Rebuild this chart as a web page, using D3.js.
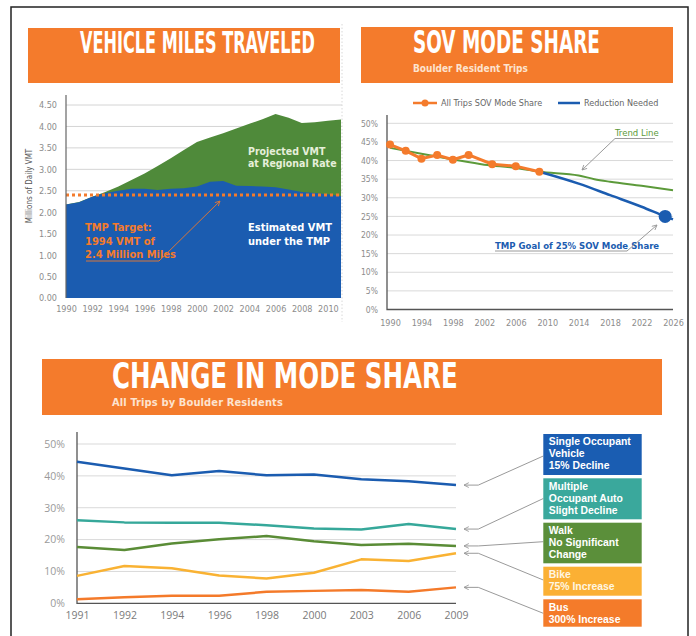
<!DOCTYPE html>
<html><head><meta charset="utf-8">
<script src="https://cdn.jsdelivr.net/npm/d3@7"></script>
<style>body{margin:0;background:#fff}svg{display:block}</style>
</head><body><svg id="c" width="696" height="636"></svg>
<script>
// ---------- DATA ----------
// Panel 1: Vehicle Miles Traveled (millions of daily VMT)
const vmtYears = [1990,1991,1992,1993,1994,1995,1996,1997,1998,1999,2000,2001,2002,2003,2004,2005,2006,2007,2008,2009,2010,2011];
const vmtProjected = [2.18,2.24,2.36,2.47,2.60,2.75,2.90,3.08,3.26,3.45,3.64,3.74,3.84,3.95,4.06,4.17,4.29,4.20,4.08,4.10,4.13,4.16];
const vmtEstimated = [2.18,2.23,2.36,2.45,2.50,2.55,2.55,2.52,2.55,2.56,2.60,2.71,2.73,2.62,2.61,2.60,2.58,2.53,2.47,2.45,2.42,2.37];
const vmtTarget = 2.4;
const vmtYTicks = [0,0.5,1,1.5,2,2.5,3,3.5,4,4.5];
const vmtXTicks = [1990,1992,1994,1996,1998,2000,2002,2004,2006,2008,2010];

// Panel 2: SOV mode share (%)
const sovYears = [1990,1992,1994,1996,1998,2000,2003,2006,2009];
const sovShare = [44.3,42.6,40.5,41.5,40.2,41.5,39.0,38.5,37.0];
const trendYears = [1990,1994,1998,2002,2006,2009,2014,2016,2018,2022,2026];
const trendShare = [43.4,41.8,40.3,38.9,38.0,37.0,36.0,35.0,34.3,33.2,32.0];
const reductionYears = [2009,2014,2018,2022,2025,2026];
const reductionShare = [37.0,33.8,30.7,27.6,25.0,24.2];
const goalYear = 2025, goalShare = 25;
const sovYTicks = [0,5,10,15,20,25,30,35,40,45,50];
const sovXTicks = [1990,1994,1998,2002,2006,2010,2014,2018,2022,2026];

// Panel 3: Change in mode share (%)
const modeYears = ["1991","1992","1994","1996","1998","2000","2003","2006","2009"];
const modeSOV  = [44.4,42.3,40.2,41.5,40.2,40.4,38.9,38.3,37.1];
const modeMOA  = [26.1,25.4,25.3,25.3,24.5,23.5,23.2,24.9,23.3];
const modeWalk = [17.7,16.7,18.8,20.1,21.1,19.5,18.3,18.7,18.0];
const modeBike = [8.6,11.7,11.0,8.7,7.8,9.6,13.8,13.3,15.7];
const modeBus  = [1.3,1.9,2.4,2.4,3.6,3.9,4.2,3.6,5.0];
const modeNames = [["Single Occupant","Vehicle"],["Multiple","Occupant Auto"],["Walk"],["Bike"],["Bus"]];
const modeNotes = [["15% Decline"],["Slight Decline"],["No Significant","Change"],["75% Increase"],["300% Increase"]];
const modeYTicks = [0,10,20,30,40,50];

// ---------- STYLE ----------
const ORANGE = "#f47b2c", BLUE = "#1b5cb0", GREEN = "#4f8a3a";
const modeColors = ["#1b5cb0","#36a89a","#5a8c36","#f9b233","#f47a2a"];
const boxFills   = ["#1a5db2","#3aa89c","#5b8f3a","#fbb034","#f47b2a"];
const NARROW = "'Liberation Sans Narrow','DejaVu Sans Condensed',sans-serif";
const BOLDF = "'Open Sans','DejaVu Sans',sans-serif";
const BOXF = "'Liberation Sans',Arial,sans-serif";
const TICK = "#8c8c8c";

const svg = d3.select("#c");
const defs = svg.append("defs");
function arrowMarker(id, color){
  defs.append("marker").attr("id",id).attr("viewBox","0 0 10 10").attr("refX",9).attr("refY",5)
    .attr("markerWidth",6).attr("markerHeight",6).attr("orient","auto-start-reverse")
    .append("path").attr("d","M1,1 L9,5 L1,9").attr("fill","none").attr("stroke",color).attr("stroke-width",1.5);
}
arrowMarker("arG","#9a9a9a");
arrowMarker("arO","#d9763a");

// outer frame
svg.append("rect").attr("x",11).attr("y",7).attr("width",677).attr("height",650)
  .attr("fill","none").attr("stroke","#222").attr("stroke-width",1.5);

function band(x,y,w,h){ svg.append("rect").attr("x",x).attr("y",y).attr("width",w).attr("height",h).attr("fill",ORANGE); }
// condensed heavy title: natural width fitted, then stretched vertically to the cap height
function title(txt,x,baseline,width,capH){
  const t = svg.append("text").attr("font-family",NARROW).attr("font-weight","bold")
    .attr("font-size",40).attr("fill","#fff").text(txt);
  const w = t.node().getComputedTextLength();
  const fs = 40*width/w;
  const sy = capH/(0.716*fs);
  t.attr("font-size",fs).attr("transform",`translate(${x},${baseline}) scale(1,${sy})`);
}
function sub(txt,x,y,width,size,fam){
  const t = svg.append("text").attr("x",x).attr("y",y).attr("font-family",fam).attr("font-weight","bold")
    .attr("font-size",size).attr("fill","#fde3cf").text(txt);
  const w = t.node().getComputedTextLength();
  if (w < width) t.attr("letter-spacing",((width-w)/txt.length).toFixed(2));
}

// ================= PANEL 1 =================
band(28,28,312,55);
title("VEHICLE MILES TRAVELED",80,53.3,235,21.5);

const x1 = d3.scaleLinear().domain([1990,2011]).range([66,341]);
const y1 = d3.scaleLinear().domain([0,4.5]).range([298,105]);
const g1 = svg.append("g");
g1.selectAll("line.grid").data(vmtYTicks.slice(1)).join("line")
  .attr("x1",66).attr("x2",342).attr("y1",d=>y1(d)).attr("y2",d=>y1(d)).attr("stroke","#d4d4d4").attr("stroke-width",1);
const vmtRows = vmtYears.map((yr,i)=>({yr,p:vmtProjected[i],e:vmtEstimated[i]}));
g1.append("path").datum(vmtRows).attr("fill",GREEN)
  .attr("d",d3.area().x(d=>x1(d.yr)).y0(y1(0)).y1(d=>y1(d.p)));
g1.append("path").datum(vmtRows).attr("fill",BLUE)
  .attr("d",d3.area().x(d=>x1(d.yr)).y0(y1(0)).y1(d=>y1(d.e)));
g1.append("line").attr("x1",x1(1990)).attr("x2",x1(2011)).attr("y1",y1(vmtTarget)).attr("y2",y1(vmtTarget))
  .attr("stroke",ORANGE).attr("stroke-width",3).attr("stroke-dasharray","3,3");
const ax1 = g1.append("g").attr("transform","translate(66,0)")
  .call(d3.axisLeft(y1).tickValues(vmtYTicks).tickFormat(d3.format(".2f")).tickSize(0).tickPadding(9));
ax1.select(".domain").remove();
ax1.selectAll("text").attr("font-family",NARROW).attr("font-size",9).attr("fill",TICK);
g1.append("line").attr("x1",66).attr("x2",66).attr("y1",95).attr("y2",298).attr("stroke","#666").attr("stroke-width",1.2);
const bx1 = g1.append("g").attr("transform","translate(0,298)")
  .call(d3.axisBottom(x1).tickValues(vmtXTicks).tickFormat(d3.format("d")).tickSize(0).tickPadding(8));
bx1.select(".domain").remove();
bx1.selectAll("text").attr("font-family",NARROW).attr("font-size",9).attr("fill",TICK);
g1.append("text").attr("transform","translate(32,186) rotate(-90)").attr("text-anchor","middle")
  .attr("font-family",NARROW).attr("font-size",8).attr("fill","#555").text("Millions of Daily VMT");
function lines(g,arr,x,y0,dy,opts){
  arr.forEach((t,i)=>g.append("text").attr("x",x).attr("y",y0+i*dy).attr("font-family",opts.f||NARROW)
    .attr("font-weight",opts.w||"bold").attr("font-size",opts.s).attr("fill",opts.c).text(t));
}
lines(g1,["Projected VMT","at Regional Rate"],248,155,12,{s:10.5,c:"#e6efd9"});
lines(g1,["Estimated VMT","under the TMP"],248,231,13.5,{s:11,c:"#ffffff"});
lines(g1,["TMP Target:","1994 VMT of","2.4 Million Miles"],85,231,13.5,{s:11,c:ORANGE});
g1.append("path").attr("d","M86,261 L159,261 L220,201").attr("fill","none").attr("stroke","#d9763a")
  .attr("stroke-width",1).attr("marker-end","url(#arO)");
g1.append("line").attr("x1",342).attr("x2",342).attr("y1",24).attr("y2",322).attr("stroke","#d8d8d8").attr("stroke-dasharray","1.5,2");

// ================= PANEL 2 =================
band(361,27,312,56);
title("SOV MODE SHARE",413,53.3,187,23);
sub("Boulder Resident Trips",413,72,98,10,NARROW);

const x2 = d3.scaleLinear().domain([1990,2026]).range([390,673]);
const y2 = d3.scaleLinear().domain([0,50]).range([309.5,123.3]);
const g2 = svg.append("g");
g2.selectAll("line.grid").data(sovYTicks.slice(1)).join("line")
  .attr("x1",387).attr("x2",673).attr("y1",d=>y2(d)).attr("y2",d=>y2(d)).attr("stroke","#d9d9d9");
const ay2 = g2.append("g").attr("transform","translate(387,0)")
  .call(d3.axisLeft(y2).tickValues(sovYTicks).tickFormat(d=>d+"%").tickSize(0).tickPadding(9));
ay2.select(".domain").remove();
ay2.selectAll("text").attr("font-family",NARROW).attr("font-size",8.5).attr("fill",TICK);
const bx2 = g2.append("g").attr("transform","translate(0,309.5)")
  .call(d3.axisBottom(x2).tickValues(sovXTicks).tickFormat(d3.format("d")).tickSize(0).tickPadding(10));
bx2.select(".domain").remove();
bx2.selectAll("text").attr("font-family",NARROW).attr("font-size",9).attr("fill",TICK);
g2.append("path").attr("d","M387,115 L387,309.5 L673,309.5").attr("fill","none").attr("stroke","#555").attr("stroke-width",1.3);

const ln2 = d3.line().x(d=>x2(d[0])).y(d=>y2(d[1])).curve(d3.curveMonotoneX);
g2.append("path").datum(trendYears.map((d,i)=>[d,trendShare[i]])).attr("d",ln2)
  .attr("fill","none").attr("stroke","#5c9a3a").attr("stroke-width",2);
g2.append("path").datum(reductionYears.map((d,i)=>[d,reductionShare[i]])).attr("d",ln2)
  .attr("fill","none").attr("stroke",BLUE).attr("stroke-width",2.5);
g2.append("path").datum(sovYears.map((d,i)=>[d,sovShare[i]])).attr("d",d3.line().x(d=>x2(d[0])).y(d=>y2(d[1])))
  .attr("fill","none").attr("stroke",ORANGE).attr("stroke-width",3);
g2.selectAll("circle.sov").data(sovYears.map((d,i)=>[d,sovShare[i]])).join("circle")
  .attr("cx",d=>x2(d[0])).attr("cy",d=>y2(d[1])).attr("r",4).attr("fill",ORANGE);
g2.append("circle").attr("cx",x2(goalYear)).attr("cy",y2(goalShare)).attr("r",6.5).attr("fill",BLUE);

// legend
g2.append("line").attr("x1",413).attr("x2",437).attr("y1",103).attr("y2",103).attr("stroke",ORANGE).attr("stroke-width",2.5);
g2.append("circle").attr("cx",425).attr("cy",103).attr("r",3.5).attr("fill",ORANGE);
g2.append("text").attr("x",441).attr("y",106).attr("font-family",NARROW).attr("font-size",9).attr("fill","#666").text("All Trips SOV Mode Share");
g2.append("line").attr("x1",558).attr("x2",580).attr("y1",103).attr("y2",103).attr("stroke",BLUE).attr("stroke-width",2.5);
g2.append("text").attr("x",584).attr("y",106).attr("font-family",NARROW).attr("font-size",9).attr("fill","#666").text("Reduction Needed");

// annotations
g2.append("text").attr("x",615).attr("y",136).attr("font-family",NARROW).attr("font-size",9.5).attr("fill","#5c9a3a").text("Trend Line");
g2.append("path").attr("d","M655,138.5 L615,138.5 L582,170").attr("fill","none").attr("stroke","#9a9a9a").attr("stroke-width",1).attr("marker-end","url(#arG)");
g2.append("text").attr("x",495).attr("y",248.5).attr("font-family",NARROW).attr("font-weight","bold").attr("font-size",9.5).attr("fill",BLUE).text("TMP Goal of 25% SOV Mode Share");
g2.append("path").attr("d","M495,251 L627,251 L657,225").attr("fill","none").attr("stroke","#9a9a9a").attr("stroke-width",1).attr("marker-end","url(#arG)");

// ================= PANEL 3 =================
band(42,359,620,56);
title("CHANGE IN MODE SHARE",112,387.5,346,25.5);
sub("All Trips by Boulder Residents",112,405.5,171,11,NARROW);

const x3 = d3.scalePoint().domain(modeYears).range([77,456]);
const y3 = d3.scaleLinear().domain([0,50]).range([603.3,444]);
const g3 = svg.append("g");
g3.selectAll("line.grid").data(modeYTicks.slice(1)).join("line")
  .attr("x1",77).attr("x2",456).attr("y1",d=>y3(d)).attr("y2",d=>y3(d)).attr("stroke","#d9d9d9");
const ay3 = g3.append("g").attr("transform","translate(77,0)")
  .call(d3.axisLeft(y3).tickValues(modeYTicks).tickFormat(d=>d+"%").tickSize(0).tickPadding(12));
ay3.select(".domain").remove();
ay3.selectAll("text").attr("font-family",BOLDF).attr("font-size",10.5).attr("fill","#9a9a9a");
const bx3 = g3.append("g").attr("transform","translate(0,603.3)")
  .call(d3.axisBottom(x3).tickSize(0).tickPadding(8));
bx3.select(".domain").remove();
bx3.selectAll("text").attr("font-family",BOLDF).attr("font-size",10.5).attr("fill","#7a7a7a");
g3.append("path").attr("d","M77,432 L77,603.3 L456,603.3").attr("fill","none").attr("stroke","#555").attr("stroke-width",1.3);

const modeSeries = [modeSOV,modeMOA,modeWalk,modeBike,modeBus];
const ln3 = d3.line().x((d,i)=>x3(modeYears[i])).y(d=>y3(d));
g3.selectAll("path.mode").data(modeSeries).join("path").attr("class","mode")
  .attr("d",ln3).attr("fill","none").attr("stroke",(d,i)=>modeColors[i]).attr("stroke-width",2.5).attr("stroke-linejoin","round");

// legend boxes
const boxTop = [434,478.3,522.7,566.7,599.3];
const boxH   = [41,41,40.6,29,27.4];
const boxTarget = [456,498.5,541.7,580,613.3];
const bxX = 543.3, bxW = 98.4;
modeSeries.forEach((s,i)=>{
  const ly = y3(s[s.length-1]);
  g3.append("path").attr("d",`M478.3,${ly} L464,${ly}`).attr("fill","none").attr("stroke","#9a9a9a").attr("stroke-width",1).attr("marker-end","url(#arG)");
  g3.append("path").attr("d",`M478.3,${ly} L${bxX},${boxTarget[i]}`).attr("fill","none").attr("stroke","#9a9a9a").attr("stroke-width",1);
  g3.append("rect").attr("x",bxX).attr("y",boxTop[i]).attr("width",bxW).attr("height",boxH[i]).attr("fill",boxFills[i]);
  const tc = i===3 ? "#fff6e2" : "#ffffff";
  const all = modeNames[i].map(t=>[t,"bold"]).concat(modeNotes[i].map(t=>[t,"bold"]));
  all.forEach((t,j)=>g3.append("text").attr("x",bxX+5.5).attr("y",boxTop[i]+11.2+j*12)
    .attr("font-family",BOXF).attr("font-weight",t[1]).attr("font-size",10.4).attr("fill",tc).text(t[0]));
});
</script></body></html>
